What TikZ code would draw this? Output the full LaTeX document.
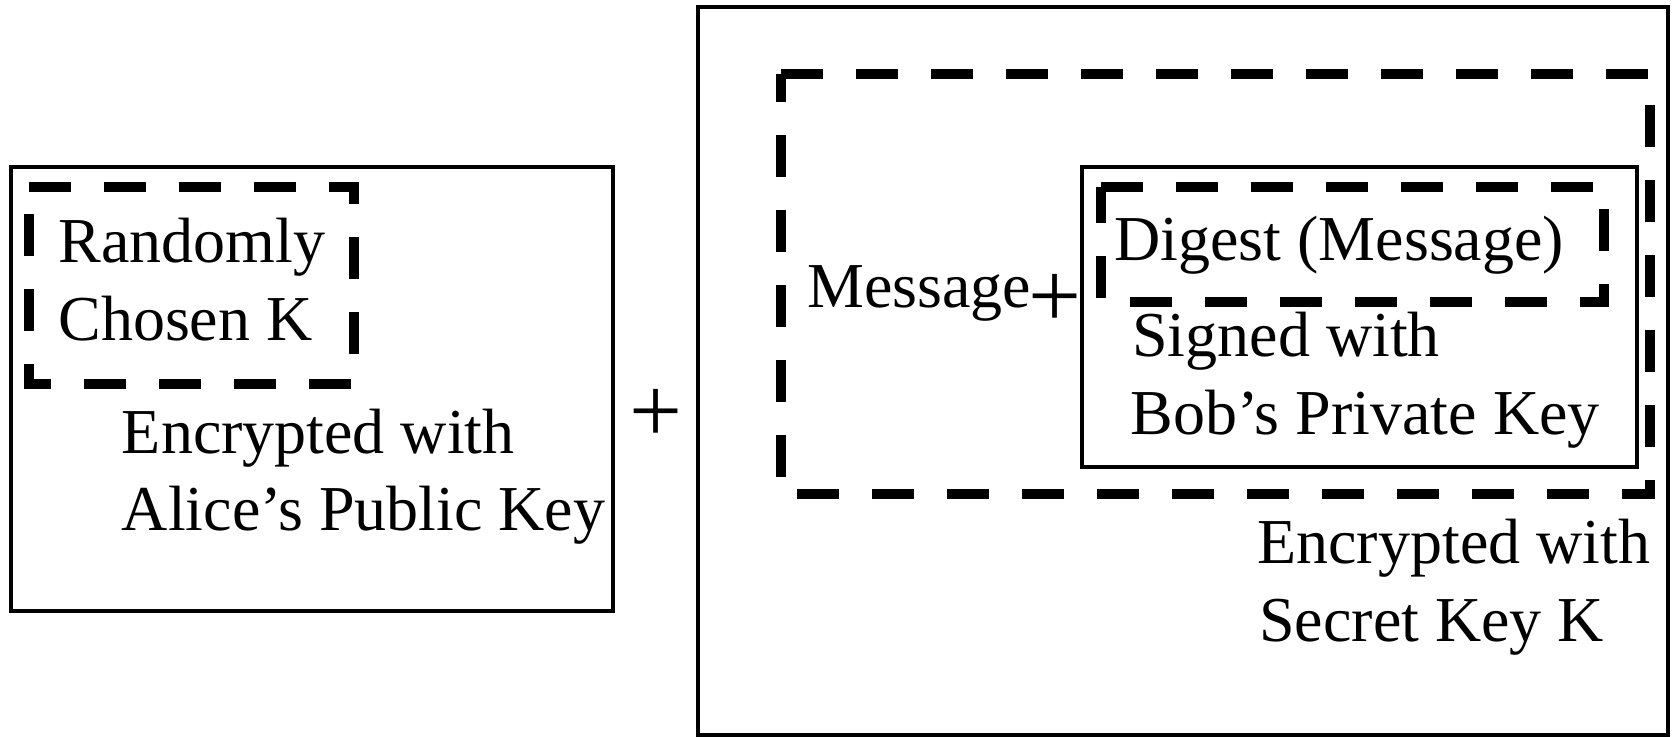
\documentclass[tikz,border=0pt]{standalone}
\usepackage{fontspec}
\setmainfont{Liberation Serif}
\begin{document}
\begin{tikzpicture}[x=0.5pt,y=-0.5pt,
  solidbox/.style={draw=black,line width=2pt,line join=miter},
  dashbox/.style={draw=black,line width=5pt,dash pattern=on 21pt off 16.5pt,line join=miter},
  txt/.style={anchor=base west,inner sep=0pt,font=\fontsize{32pt}{39pt}\selectfont},
  plus/.style={anchor=center,inner sep=0pt,font=\fontsize{47pt}{47pt}\selectfont}]
\useasboundingbox (0,0) rectangle (1672,737);
% boxes
\coordinate (lb1) at (11,167);   \coordinate (lb2) at (613,611);
\coordinate (ld1) at (29,187);   \coordinate (ld2) at (354,384);
\coordinate (rb1) at (698,7);    \coordinate (rb2) at (1668,735);
\coordinate (bd1) at (781,74);   \coordinate (bd2) at (1650,494);
\coordinate (ib1) at (1082,167); \coordinate (ib2) at (1637,467);
\coordinate (id1) at (1101,187); \coordinate (id2) at (1604,302);
\draw[solidbox] (lb1) rectangle (lb2);
\draw[dashbox] (ld1) -- (ld1 -| ld2) -- (ld2) -- (ld2 -| ld1) -- cycle;
\draw[solidbox] (rb1) rectangle (rb2);
\draw[dashbox] (bd1) -- (bd1 -| bd2) -- (bd2) -- (bd2 -| bd1) -- cycle;
\draw[solidbox] (ib1) rectangle (ib2);
\draw[dashbox] (id1) -- (id1 -| id2) -- (id2) -- (id2 -| id1) -- cycle;
% texts
\node[txt] (rk1) at (58,263) {Randomly};
\node[txt] (rk2) at (58,341) {Chosen K};
\node[txt] (ea1) at (121.5,454) {Encrypted with};
\node[txt] (ea2) at (121.5,531) {Alice’s Public Key};
\node[plus] (p1) at (656,416) {+};
\node[txt] (msg) at (807,308) {Message};
\node[plus] (p2) at (1055,301) {+};
\node[txt] (dg) at (1114,261) {Digest (Message)};
\node[txt] (sb1) at (1132,357) {Signed with};
\node[txt] (sb2) at (1130,435) {Bob’s Private Key};
\node[txt] (es1) at (1257,564) {Encrypted with};
\node[txt] (es2) at (1259,642) {Secret Key K};
\end{tikzpicture}
\end{document}
